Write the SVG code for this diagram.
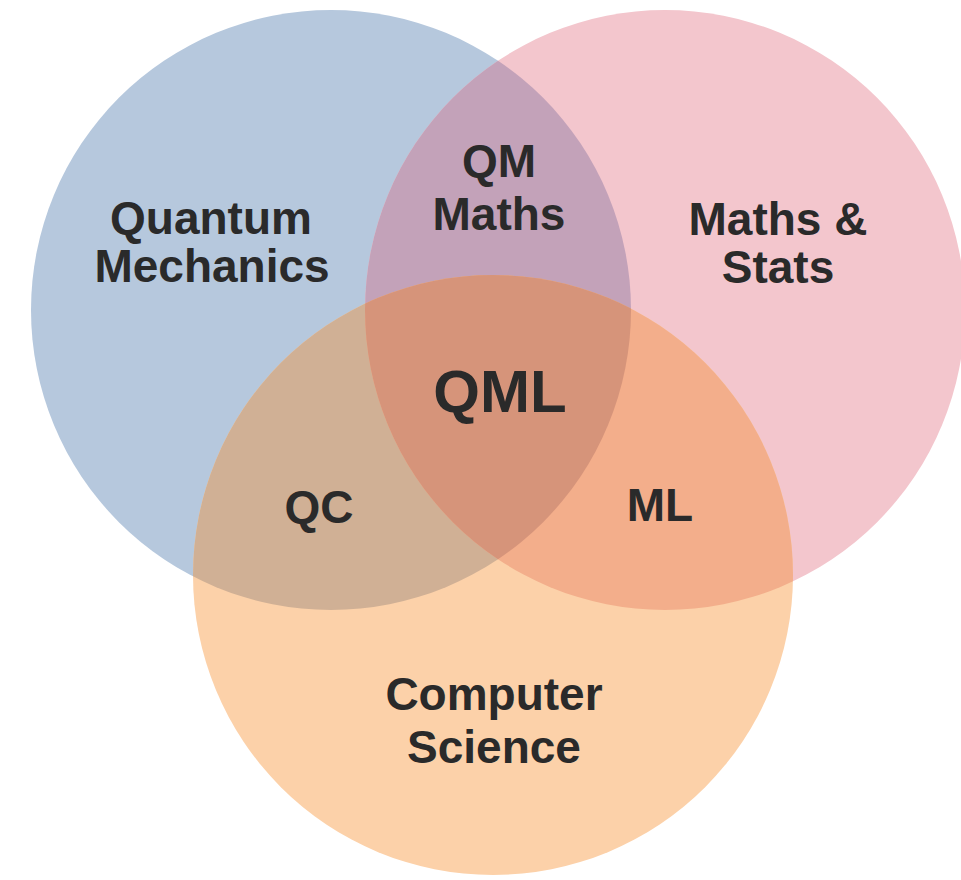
<svg xmlns="http://www.w3.org/2000/svg" width="961" height="880" viewBox="0 0 961 880">
<style>
  text { font-family: "Liberation Sans", Arial, sans-serif; font-weight: bold; fill: #2a2a2a; text-anchor: middle; font-size: 46px; }
  .big { font-size: 60px; }
</style>
<defs>
  <clipPath id="clipBlue"><circle cx="331" cy="310" r="300"/></clipPath>
  <clipPath id="clipPink"><circle cx="665" cy="310" r="300"/></clipPath>
</defs>
<rect width="961" height="880" fill="#ffffff"/>
<g id="quantum-mechanics">
  <circle cx="331" cy="310" r="300" fill="#b6c8dd"/>
</g>
<g id="maths-stats">
  <circle cx="665" cy="310" r="300" fill="#f3c6cd"/>
</g>
<g id="computer-science">
  <circle cx="493" cy="575" r="300" fill="#fcd1a9"/>
</g>
<g id="qm-maths">
  <circle cx="665" cy="310" r="300" fill="#c3a2b9" clip-path="url(#clipBlue)"/>
</g>
<g id="qc">
  <circle cx="493" cy="575" r="300" fill="#d0b095" clip-path="url(#clipBlue)"/>
</g>
<g id="ml">
  <circle cx="493" cy="575" r="300" fill="#f3ae8b" clip-path="url(#clipPink)"/>
</g>
<g id="qml">
  <g clip-path="url(#clipBlue)">
    <circle cx="493" cy="575" r="300" fill="#d6947a" clip-path="url(#clipPink)"/>
  </g>
</g>
<g id="connectors"></g>
<g id="labels">
  <text x="211" y="234">Quantum</text>
  <text x="212" y="282">Mechanics</text>
  <text x="499" y="177">QM</text>
  <text x="499" y="230">Maths</text>
  <text x="778" y="235">Maths &amp;</text>
  <text x="778" y="283">Stats</text>
  <text class="big" x="500" y="412">QML</text>
  <text x="319" y="523">QC</text>
  <text x="660" y="521">ML</text>
  <text x="494" y="710">Computer</text>
  <text x="494" y="763">Science</text>
</g>
</svg>
